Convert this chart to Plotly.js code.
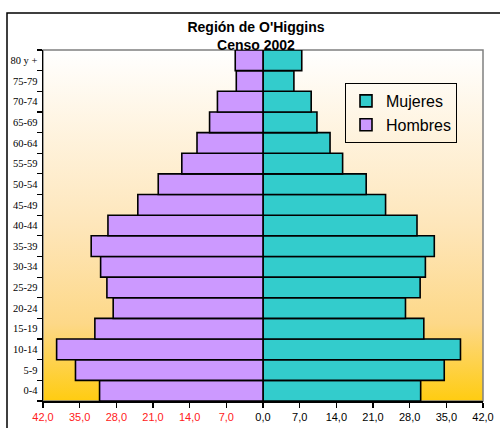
<!DOCTYPE html>
<html>
<head>
<meta charset="utf-8">
<script src="https://cdn.plot.ly/plotly-3.0.1.min.js"></script>
<style>html,body{margin:0;padding:0;background:#fff;}#chart{width:500px;height:428px;}</style>
</head>
<body>
<div id="chart"></div>
<script>
const ageGroups = ["0-4","5-9","10-14","15-19","20-24","25-29","30-34","35-39","40-44","45-49","50-54","55-59","60-64","65-69","70-74","75-79","80 y +"];
const mujeres = [30.1, 34.6, 37.7, 30.7, 27.2, 30.0, 31.0, 32.7, 29.4, 23.4, 19.7, 15.2, 12.8, 10.3, 9.2, 5.9, 7.4];
const hombres = [31.2, 35.8, 39.4, 32.1, 28.6, 29.8, 31.0, 32.8, 29.6, 23.9, 20.0, 15.5, 12.6, 10.2, 8.7, 5.1, 5.3];
const tickVals = [-42, -35, -28, -21, -14, -7, 0, 7, 14, 21, 28, 35, 42];
const tickText = ["42,0","35,0","28,0","21,0","14,0","7,0","0,0","7,0","14,0","21,0","28,0","35,0","42,0"];

const ticktextStyled = tickText.map((t, i) => tickVals[i] < 0 ? '<span style="color:#ff2020">' + t + '</span>' : t);

const svg = "<svg xmlns='http://www.w3.org/2000/svg' width='10' height='100' preserveAspectRatio='none'><defs><linearGradient id='g' x1='0' y1='0' x2='0' y2='1'><stop offset='0' stop-color='#FFFFFF'/><stop offset='0.5' stop-color='#FEE6BA'/><stop offset='0.78' stop-color='#FDD888'/><stop offset='1' stop-color='#FFCC11'/></linearGradient></defs><rect width='10' height='100' fill='url(#g)'/></svg>";
const gradSrc = 'data:image/svg+xml;base64,' + btoa(svg);

const traces = [
  {
    type: 'bar', orientation: 'h', name: 'Mujeres',
    y: ageGroups, x: mujeres,
    marker: {color: '#33CCCC', line: {color: '#000', width: 1.6}},
    hoverinfo: 'skip'
  },
  {
    type: 'bar', orientation: 'h', name: 'Hombres',
    y: ageGroups, x: hombres.map(v => -v),
    marker: {color: '#CC99FF', line: {color: '#000', width: 1.6}},
    hoverinfo: 'skip'
  }
];

const layout = {
  width: 500, height: 428,
  margin: {l: 43, r: 17, t: 50, b: 27, pad: 0},
  paper_bgcolor: '#ffffff',
  plot_bgcolor: '#ffffff',
  barmode: 'overlay',
  bargap: 0,
  font: {family: 'Arial, "Liberation Sans", sans-serif', color: '#000'},
  title: {
    text: "<b>Región de O'Higgins<br>Censo 2002</b>",
    font: {family: 'Arial, "Liberation Sans", sans-serif', size: 14, color: '#000'},
    xref: 'container', x: 0.512, xanchor: 'center',
    yref: 'paper', y: 1, yanchor: 'bottom',
    pad: {t: 0, b: 18, l: 0, r: 0},
    automargin: false
  },
  xaxis: {
    range: [-42, 42],
    tickvals: tickVals,
    ticktext: ticktextStyled,
    ticks: 'outside', ticklen: 5, tickwidth: 1.2, tickcolor: '#000',
    showline: true, linecolor: '#000', linewidth: 1.5,
    showgrid: false, zeroline: false,
    tickfont: {family: 'Arial, "Liberation Sans", sans-serif', size: 11, color: '#000'},
    fixedrange: true
  },
  yaxis: {
    type: 'category',
    categoryorder: 'array', categoryarray: ageGroups,
    tickson: 'boundaries',
    ticks: 'outside', ticklen: 5, tickwidth: 1.2, tickcolor: '#000',
    showline: true, linecolor: '#000', linewidth: 1.5,
    showgrid: false, zeroline: false,
    tickfont: {family: '"Liberation Serif", "Times New Roman", serif', size: 10.5, color: '#000'},
    ticklabelstandoff: 2,
    fixedrange: true
  },
  legend: {
    x: (345-43)/440, y: 0.906, xanchor: 'left', yanchor: 'top',
    bgcolor: 'rgba(0,0,0,0)', bordercolor: '#000', borderwidth: 1,
    font: {family: 'Arial, "Liberation Sans", sans-serif', size: 16, color: '#000'},
    traceorder: 'normal',
    itemwidth: 30,
    tracegroupgap: 0
  },
  showlegend: true,
  images: [{
    source: gradSrc, xref: 'paper', yref: 'paper', x: 0, y: 1, sizex: 1, sizey: 1,
    sizing: 'stretch', layer: 'below', xanchor: 'left', yanchor: 'top'
  }],
  shapes: [
    {type: 'rect', xref: 'paper', yref: 'paper', x0: 0, x1: 1, y0: 0, y1: 1,
     line: {color: '#808080', width: 1.5}, layer: 'below'},
    {type: 'rect', xref: 'paper', yref: 'paper', x0: -36/440, x1: 1.3, y0: -0.3, y1: (401-13)/351,
     line: {color: '#000', width: 1.5}, fillcolor: 'rgba(0,0,0,0)', layer: 'above'}
  ]
};

Plotly.newPlot('chart', traces, layout, {displayModeBar: false, staticPlot: true});
</script>
</body>
</html>
